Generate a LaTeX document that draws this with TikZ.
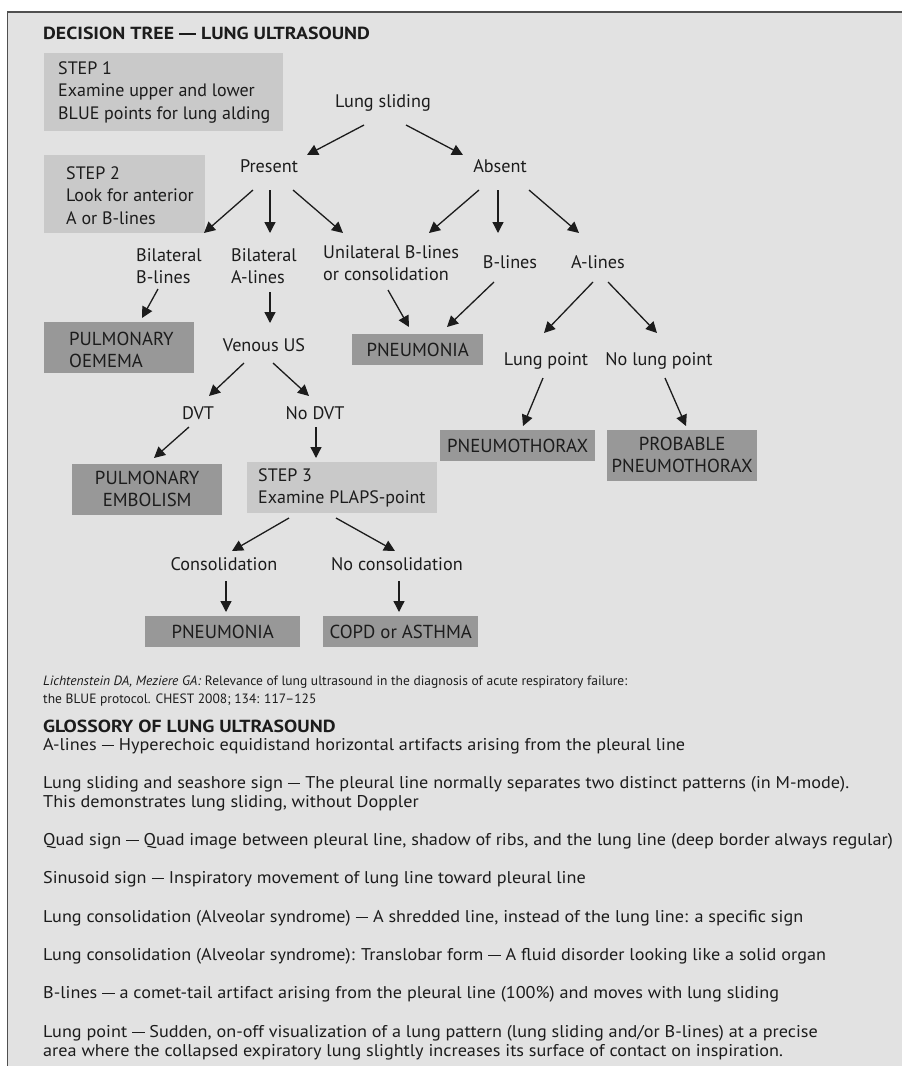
\documentclass[tikz,border=0pt]{standalone}
\usepackage{fontspec}
\setmainfont{PT Sans}
\newfontfamily\glossfont[FakeStretch=1.07]{PT Sans}
\newfontfamily\headfont[FakeStretch=1.13]{PT Sans}
\usetikzlibrary{arrows.meta}
\definecolor{ink}{HTML}{1C1C1C}
\definecolor{panel}{HTML}{E2E2E2}
\definecolor{lightbox}{HTML}{C9C9C9}
\definecolor{darkbox}{HTML}{989898}
\definecolor{frame}{HTML}{505050}
\newcommand\twoline[2]{\begin{tabular}[t]{@{}l@{}}#1\\#2\end{tabular}}
\newcommand\boxl[4]{\raisebox{#3pt}[0pt][0pt]{\hbox to #1pt{\hspace*{#2pt}\begin{tabular}[t]{@{}l@{}}#4\end{tabular}\hss}}}
\newcommand\boxc[2]{\raisebox{#1pt}[0pt][0pt]{\begin{tabular}[t]{@{}c@{}}#2\end{tabular}}}
\newcommand\gdash{\rule[3.6pt]{12.5pt}{1.6pt}}
\newcommand\hdash{\rule[3.8pt]{17pt}{2.5pt}}
\begin{document}
\begin{tikzpicture}[x=1pt,y=-1pt,
  lbl/.style={font=\fontsize{18.2}{22}\selectfont, text=ink, inner sep=0pt},
  boxbase/.style={text=ink, inner sep=0pt, anchor=north west},
  lbox/.style={boxbase, fill=lightbox, font=\fontsize{18}{22.5}\selectfont},
  dbox/.style={boxbase, fill=darkbox, font=\fontsize{18.8}{22.5}\selectfont},
  arr/.style={draw=ink, line width=1.3pt, -{Triangle[length=11pt,width=11pt]}},
  gtext/.style={font=\glossfont\fontsize{17}{19}\selectfont, text=ink, inner sep=0pt, anchor=base west},
  ctext/.style={font=\fontsize{13.5}{18}\selectfont, text=ink, inner sep=0pt, anchor=base west},
  htext/.style={font=\headfont\bfseries\fontsize{17.5}{20}\selectfont, text=ink, inner sep=0pt, anchor=base west}]
\useasboundingbox (0,0) rectangle (902,1066);
\fill[white] (0,0) rectangle (902,1066);
\fill[panel] (7.5,12) rectangle (902,1066);
\draw[frame, line width=1.6pt] (7.5,1066) -- (7.5,12) -- (902,12);

\node[htext] (title) at (43,39) {DECISION TREE \hdash{} LUNG ULTRASOUND};

% boxes
\node[lbox, minimum width=239pt, minimum height=78pt] (s1) at (44,53) {\boxl{239}{14}{18}{STEP 1\\Examine upper and lower\\BLUE points for lung alding}};
\node[lbox, minimum width=161pt, minimum height=78pt] (s2) at (44,155) {\boxl{161}{22}{15}{STEP 2\\Look for anterior\\A or B-lines}};
\node[dbox, minimum width=150pt, minimum height=51pt] (oed) at (44,322) {\boxl{150}{25}{2.5}{PULMONARY\\OEMEMA}};
\node[dbox, minimum width=150pt, minimum height=51pt] (emb) at (72,464) {\boxc{5.5}{PULMONARY\\EMBOLISM}};
\node[lbox, minimum width=190pt, minimum height=51pt] (s3) at (247,462) {\boxl{190}{11}{6.5}{STEP 3\\Examine PLAPS-point}};
\node[dbox, minimum width=155pt, minimum height=31pt] (pn2) at (145,616) {\boxc{-7}{PNEUMONIA}};
\node[dbox, minimum width=155pt, minimum height=31pt] (copd) at (323,616) {\boxc{-7}{COPD or ASTHMA}};
\node[dbox, minimum width=131pt, minimum height=31pt] (pn1) at (352,334) {\boxc{-7}{PNEUMONIA}};
\node[dbox, minimum width=155pt, minimum height=31pt] (ptx) at (440,430) {\boxc{-7}{PNEUMOTHORAX}};
\node[dbox, minimum width=150pt, minimum height=51pt] (pptx) at (607,430) {\boxc{5.5}{PROBABLE\\PNEUMOTHORAX}};

% labels
\node[lbl, anchor=base] (ls) at (383,107) {Lung sliding};
\node[lbl, anchor=base] (present) at (269,172) {Present};
\node[lbl, anchor=base] (absent) at (500,172) {Absent};
\node[lbl, anchor=base west] (bb) at (136,261) {\twoline{Bilateral}{B-lines}};
\node[lbl, anchor=base west] (ba) at (231,261) {\twoline{Bilateral}{A-lines}};
\node[lbl, anchor=base west] (uni) at (323,258) {\twoline{Unilateral B-lines}{or consolidation}};
\node[lbl, anchor=base] (bl) at (510,268) {B-lines};
\node[lbl, anchor=base] (al) at (598,268) {A-lines};
\node[lbl, anchor=base] (venous) at (264,351) {Venous US};
\node[lbl, anchor=base] (dvt) at (198,419) {DVT};
\node[lbl, anchor=base] (nodvt) at (315,419) {No DVT};
\node[lbl, anchor=base] (cons) at (224,570) {Consolidation};
\node[lbl, anchor=base] (nocons) at (397,570) {No consolidation};
\node[lbl, anchor=base] (lp) at (546,365) {Lung point};
\node[lbl, anchor=base] (nlp) at (659,365) {No lung point};

% arrows
\draw[arr] ([shift={(-19,18)}]ls.base) -- ([shift={(38,-17)}]present.base);
\draw[arr] ([shift={(23,18)}]ls.base) -- ([shift={(-37,-17)}]absent.base);
\draw[arr] ([shift={(-16,18)}]present.base) -- ([shift={(68,-28)}]bb.base west);
\draw[arr] ([shift={(1,18)}]present.base) -- ([shift={(39,-28)}]ba.base west);
\draw[arr] ([shift={(24,18)}]present.base) -- ([shift={(20,-25)}]uni.base west);
\draw[arr] ([shift={(-21,18)}]absent.base) -- ([shift={(106,-25)}]uni.base west);
\draw[arr] ([shift={(-2,18)}]absent.base) -- ([shift={(-12,-35)}]bl.base);
\draw[arr] ([shift={(29,18)}]absent.base) -- ([shift={(-19,-35)}]al.base);
\draw[arr] ([shift={(22,28)}]bb.base west) -- ([shift={(98,-4)}]oed.north west);
\draw[arr] ([shift={(39,31)}]ba.base west) -- ([shift={(6,-28)}]venous.base);
\draw[arr] ([shift={(-20,12)}]venous.base) -- ([shift={(11,-23)}]dvt.base);
\draw[arr] ([shift={(9,12)}]venous.base) -- ([shift={(-6,-23)}]nodvt.base);
\draw[arr] ([shift={(-9,8)}]dvt.base) -- ([shift={(82,-6)}]emb.north west);
\draw[arr] ([shift={(1,8)}]nodvt.base) -- ([shift={(69,-4)}]s3.north west);
\draw[arr] ([shift={(42,56)}]s3.north west) -- ([shift={(8,-19)}]cons.base);
\draw[arr] ([shift={(89,56)}]s3.north west) -- ([shift={(-2,-19)}]nocons.base);
\draw[arr] ([shift={(2,11)}]cons.base) -- ([shift={(81,-4)}]pn2.north west);
\draw[arr] ([shift={(2,11)}]nocons.base) -- ([shift={(76,-4)}]copd.north west);
\draw[arr] ([shift={(65,32)}]uni.base west) -- ([shift={(57,-7)}]pn1.north west);
\draw[arr] ([shift={(-16,14)}]bl.base) -- ([shift={(95,-7)}]pn1.north west);
\draw[arr] ([shift={(-5,14)}]al.base) -- ([shift={(-2,-32)}]lp.base);
\draw[arr] ([shift={(10,14)}]al.base) -- ([shift={(-2,-32)}]nlp.base);
\draw[arr] ([shift={(-3,13)}]lp.base) -- ([shift={(83,-4)}]ptx.north west);
\draw[arr] ([shift={(6,13)}]nlp.base) -- ([shift={(79,-4)}]pptx.north west);

% citation and glossary
\node[ctext] (cit) at (43,685) {\twoline{\textit{Lichtenstein DA, Meziere GA:} Relevance of lung ultrasound in the diagnosis of acute respiratory failure:}{the BLUE protocol. CHEST 2008; 134: 117–125}};
\node[htext] (gh) at (43,732) {GLOSSORY OF LUNG ULTRASOUND};
\node[gtext] (g1) at (43,750) {A-lines \gdash{} Hyperechoic equidistand horizontal artifacts arising from the pleural line};
\node[gtext] (g2) at (43,788) {\twoline{Lung sliding and seashore sign \gdash{} The pleural line normally separates two distinct patterns (in M-mode).}{This demonstrates lung sliding, without Doppler}};
\node[gtext] (g3) at (43,845) {Quad sign \gdash{} Quad image between pleural line, shadow of ribs, and the lung line (deep border always regular)};
\node[gtext] (g4) at (43,883) {Sinusoid sign \gdash{} Inspiratory movement of lung line toward pleural line};
\node[gtext] (g5) at (43,922) {Lung consolidation (Alveolar syndrome) \gdash{} A shredded line, instead of the lung line: a specific sign};
\node[gtext] (g6) at (43,960) {Lung consolidation (Alveolar syndrome): Translobar form \gdash{} A fluid disorder looking like a solid organ};
\node[gtext] (g7) at (43,998) {B-lines \gdash{} a comet-tail artifact arising from the pleural line (100\%) and moves with lung sliding};
\node[gtext] (g8) at (43,1037) {\twoline{Lung point \gdash{} Sudden, on-off visualization of a lung pattern (lung sliding and/or B-lines) at a precise}{area where the collapsed expiratory lung slightly increases its surface of contact on inspiration.}};
\end{tikzpicture}
\end{document}
